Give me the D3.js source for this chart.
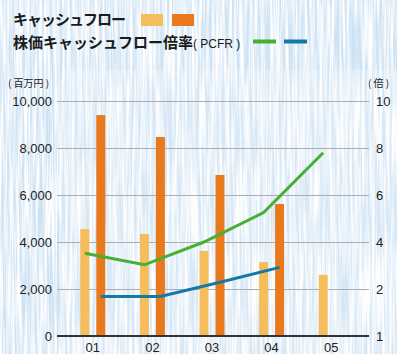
<!DOCTYPE html>
<html>
<head>
<meta charset="utf-8">
<script src="https://cdn.jsdelivr.net/npm/d3@7"></script>
<style>
body{margin:0;padding:0;}
svg{display:block;}
.tick text{font-family:"Liberation Sans","Noto Sans CJK JP",sans-serif;fill:#222;}
</style>
</head>
<body>
<div id="content"></div>
<script>
//chart data
var years=['01','02','03','04','05'];
var cfLight=[4550,4340,3620,3150,2600];
var cfDark=[9400,8470,6850,5620,null];
var pcfrGreen=[3.52,3.03,4.0,5.25,7.8];
var pcfrBlue=[1.84,1.84,2.29,2.92,null];
var leftTicks=[0,2000,4000,6000,8000,10000];
var rightTicks=[1,2,4,6,8,10];

//layout constants
var svg_width=397;
var svg_height=354;
var plot_left=57;
var plot_right=369;
var plot_top=101;
var plot_bottom=336;
var lightColor='#f6bd5c';
var darkColor='#e8791c';
var greenColor='#46b035';
var blueColor='#1479a5';
var jpFont='"Noto Sans CJK JP","Liberation Sans",sans-serif';

var svg=d3.select('#content').append('svg')
	.attr('width',svg_width).attr('height',svg_height);

//background with vertical streak texture
var defs=svg.append('defs');
var filt=defs.append('filter').attr('id','streaks')
	.attr('x',0).attr('y',0).attr('width','100%').attr('height','100%');
filt.append('feTurbulence').attr('type','fractalNoise')
	.attr('baseFrequency','0.4 0.012').attr('numOctaves',3).attr('seed',7);
filt.append('feColorMatrix').attr('type','matrix')
	.attr('values','0 0 0 0 1  0 0 0 0 1  0 0 0 0 1  2.6 0 0 0 -0.8');

svg.append('rect').attr('width',svg_width).attr('height',svg_height).attr('fill','#cde2f3');
svg.append('rect').attr('width',svg_width).attr('height',svg_height).attr('filter','url(#streaks)');
svg.append('rect').attr('x',62).attr('y',70).attr('width',svg_width-62).attr('height',svg_height-70)
	.attr('fill','#ffffff').attr('opacity',0.2);

//scales
var y=d3.scaleLinear().domain([0,10000]).range([plot_bottom,plot_top]);
var yR=d3.scaleLinear().domain(rightTicks).range(leftTicks.map(function(v){return y(v);}));
var x=d3.scaleBand().domain(years).range([63,361]);
var x1=d3.scaleBand().domain(['light','dark']).range([x.bandwidth()/2-12.5,x.bandwidth()/2+12.5]).paddingInner(0.4375);

//grid + left axis
var gLeft=svg.append('g').attr('transform','translate('+plot_left+',0)')
	.call(d3.axisLeft(y).tickValues(leftTicks).tickFormat(d3.format(',')).tickSize(-(plot_right-plot_left)).tickPadding(5));
gLeft.select('.domain').remove();
gLeft.selectAll('.tick line').attr('stroke','#adadad').attr('stroke-width',1);
gLeft.selectAll('.tick text').style('font-size','13px');

//right axis
var gRight=svg.append('g').attr('transform','translate('+plot_right+',0)')
	.call(d3.axisRight(yR).tickValues(rightTicks).tickSize(0).tickPadding(7));
gRight.select('.domain').remove();
gRight.selectAll('.tick text').style('font-size','13px');

//unit labels
svg.append('text').attr('x',8).attr('y',87).text('( 百万円 )')
	.style('font-family',jpFont).style('font-size','10px').attr('fill','#222');
svg.append('text').attr('x',368).attr('y',87).text('( 倍 )')
	.style('font-family',jpFont).style('font-size','10px').attr('fill','#222');

//bars
var groups=svg.selectAll('.grp').data(years).enter().append('g')
	.attr('transform',function(d){return 'translate('+x(d)+',0)';});
groups.append('rect')
	.attr('x',x1('light')).attr('width',x1.bandwidth())
	.attr('y',function(d,i){return y(cfLight[i]);})
	.attr('height',function(d,i){return plot_bottom-y(cfLight[i]);})
	.attr('fill',lightColor);
groups.filter(function(d,i){return cfDark[i]!=null;}).append('rect')
	.attr('x',x1('dark')).attr('width',x1.bandwidth())
	.attr('y',function(d){return y(cfDark[years.indexOf(d)]);})
	.attr('height',function(d){return plot_bottom-y(cfDark[years.indexOf(d)]);})
	.attr('fill',darkColor);

//bottom axis
var gBottom=svg.append('g').attr('transform','translate(0,'+plot_bottom+')')
	.call(d3.axisBottom(x).tickSize(0).tickPadding(7));
gBottom.select('.domain').remove();
gBottom.selectAll('.tick text').style('font-size','13px');
svg.append('line').attr('x1',plot_left).attr('x2',plot_right)
	.attr('y1',plot_bottom).attr('y2',plot_bottom)
	.attr('stroke','#333').attr('stroke-width',2);

//lines
var greenLine=d3.line()
	.x(function(d,i){return x(years[i])+x1('light')+x1.bandwidth()/2;})
	.y(function(d){return yR(d);});
var blueLine=d3.line()
	.defined(function(d){return d!=null;})
	.x(function(d,i){return x(years[i])+x1('dark')+x1.bandwidth()/2;})
	.y(function(d){return yR(d);});
svg.append('path').attr('d',greenLine(pcfrGreen)).attr('fill','none')
	.attr('stroke',greenColor).attr('stroke-width',3);
svg.append('path').attr('d',blueLine(pcfrBlue)).attr('fill','none')
	.attr('stroke',blueColor).attr('stroke-width',3);

//title + legend
svg.append('text').attr('x',13).attr('y',25).text('キャッシュフロー')
	.style('font-family',jpFont).style('font-weight','bold').style('font-size','15px')
	.attr('fill','#1a1a1a').attr('letter-spacing',-1);
svg.append('rect').attr('x',141).attr('y',14).attr('width',22).attr('height',12).attr('fill',lightColor);
svg.append('rect').attr('x',172).attr('y',14).attr('width',22).attr('height',12).attr('fill',darkColor);

var t2=svg.append('text').attr('x',13).attr('y',48)
	.style('font-family',jpFont).attr('fill','#1a1a1a');
t2.append('tspan').text('株価キャッシュフロー倍率').style('font-weight','bold').style('font-size','15px');
t2.append('tspan').text('( PCFR )').style('font-size','12px')
	.style('font-family','"Liberation Sans",sans-serif');
svg.append('line').attr('x1',253).attr('x2',276).attr('y1',41.5).attr('y2',41.5)
	.attr('stroke',greenColor).attr('stroke-width',4);
svg.append('line').attr('x1',284).attr('x2',307).attr('y1',41.5).attr('y2',41.5)
	.attr('stroke',blueColor).attr('stroke-width',4);
</script>
</body>
</html>
